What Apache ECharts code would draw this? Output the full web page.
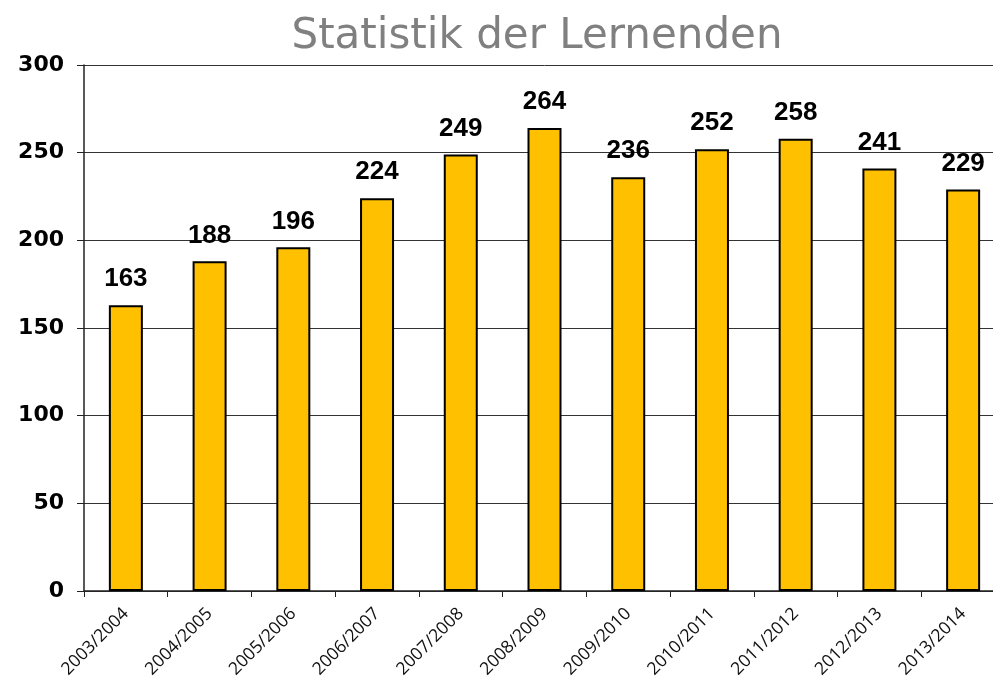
<!DOCTYPE html>
<html>
<head>
<meta charset="utf-8">
<script src="https://cdn.jsdelivr.net/npm/echarts@6/dist/echarts.min.js"></script>
<style>
  html, body { margin: 0; padding: 0; background: #fff; overflow: hidden; }
  /* the plot area runs a little past the right edge of the picture */
  #chart { width: 1006px; height: 682px; }
</style>
</head>
<body>
<div id="chart"></div>
<script>
// school years and number of learners
const years = ['2003/2004', '2004/2005', '2005/2006', '2006/2007', '2007/2008', '2008/2009',
    '2009/2010', '2010/2011', '2011/2012', '2012/2013', '2013/2014'];
const learners = [163, 188, 196, 224, 249, 264, 236, 252, 258, 241, 229];

const chart = echarts.init(document.getElementById('chart'));
const option = {
    animation: false,
    title: {
        text: 'Statistik der Lernenden',
        left: 532,
        textAlign: 'center',
        top: 11,
        textStyle: {
            color: '#808080',
            fontFamily: 'DejaVu Sans',
            fontWeight: 'normal',
            fontSize: 42,
        },
    },
    grid: {
        left: 84,
        right: 1,
        top: 65,
        bottom: 91,
    },
    xAxis: {
        type: 'category',
        data: years,
        axisLine: { lineStyle: { color: '#222', width: 1.5 } },
        axisTick: { show: true, length: 6, lineStyle: { color: '#222' } },
        axisLabel: {
            rotate: 45,
            color: '#111',
            fontFamily: 'Open Sans',
            fontSize: 17.5,
            margin: 20,
        },
    },
    yAxis: {
        type: 'value',
        min: 0,
        max: 300,
        interval: 50,
        axisLine: { show: true, lineStyle: { color: '#222', width: 1.5 } },
        axisTick: { show: true, length: 7, lineStyle: { color: '#222' } },
        splitLine: { lineStyle: { color: '#333', width: 1 } },
        axisLabel: {
            color: '#000',
            fontFamily: 'DejaVu Sans',
            fontWeight: 'bold',
            fontSize: 22,
            margin: 20,
        },
    },
    series: [
        {
            type: 'bar',
            data: learners,
            barWidth: 34,
            itemStyle: {
                color: '#FFC000',
                borderColor: '#000',
                borderWidth: 2,
            },
            label: {
                show: true,
                position: 'top',
                distance: 13,
                color: '#000',
                fontFamily: 'Liberation Sans',
                fontWeight: 'bold',
                fontSize: 26,
            },
        },
    ],
};
chart.setOption(option);
</script>
</body>
</html>
